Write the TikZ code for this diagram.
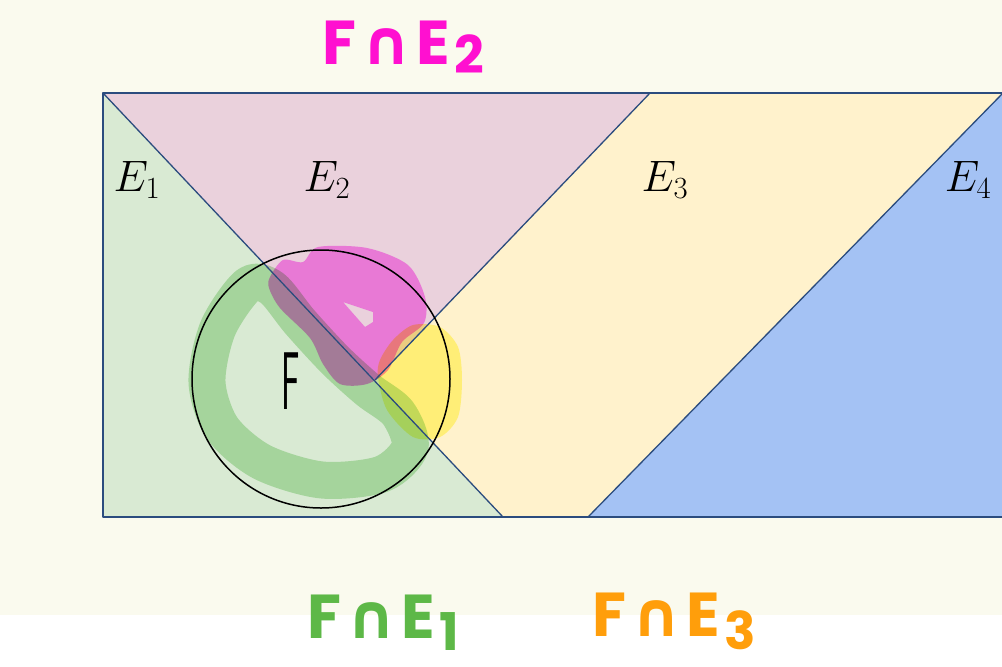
\RequirePackage{fix-cm}
\documentclass[tikz,border=0pt]{standalone}
\usepackage{fontspec}
\usepackage{tikz}
\usepackage{xcolor}
\usetikzlibrary{positioning}
\newfontfamily\handfont{Poppins}
\newfontfamily\symfont{DejaVu Sans}
\definecolor{cream}{HTML}{FAFAEE}
\definecolor{frameblue}{HTML}{2B4C7E}
\definecolor{eonebg}{HTML}{D9EAD3}
\definecolor{etwobg}{HTML}{EAD1DC}
\definecolor{ethreebg}{HTML}{FFF2CC}
\definecolor{efourbg}{HTML}{A4C2F4}
\definecolor{greenmark}{HTML}{C3E8BD}
\definecolor{pinkmark}{HTML}{FD94F7}
\definecolor{yellowmark}{HTML}{FFFB95}
\definecolor{greenink}{HTML}{5DB847}
\definecolor{pinkink}{HTML}{FF10D0}
\definecolor{orangeink}{HTML}{FF9E0B}
\tikzset{
  edge/.style={draw=frameblue,line width=1.3pt,line join=round},
  setlabel/.style={inner sep=0pt,font=\fontsize{44}{44}\selectfont},
  handlabel/.style={inner sep=0pt,font=\fontsize{62}{62}\handfont\bfseries},
  marker/.style={line width=37pt,line cap=round,line join=round,blend mode=multiply},
  blob/.style={blend mode=multiply,even odd rule}
}
\newcommand{\capsign}{\hspace{5pt}{\symfont\bfseries ∩}\hspace{5pt}}
\newcommand{\lowsub}[2]{\hspace{4pt}\raisebox{-#1}{\fontsize{52}{52}\selectfont #2}}
\begin{document}
\begin{tikzpicture}[x=1pt,y=-1pt]
  \useasboundingbox (0,0) rectangle (1002,667);
  \clip (0,0) rectangle (1002,667);
  \fill[cream] (0,0) rectangle (1002,615);
  \fill[white] (0,615) rectangle (1002,667);

  % corners of the sample space
  \coordinate (tl) at (103,93);
  \coordinate (bl) at (103,517);
  \coordinate (b1) at (503,517);
  \coordinate (t2) at (650,93);
  \coordinate (mid) at (375,380);
  \coordinate (t3) at (1003,93);
  \coordinate (b3) at (588,517);
  \coordinate (tr) at (1012,93);
  \coordinate (br) at (1012,517);

  % the partition
  \fill[eonebg] (tl) -- (b1) -- (bl) -- cycle;
  \fill[etwobg] (tl) -- (t2) -- (mid) -- cycle;
  \fill[ethreebg] (t2) -- (t3) -- (b3) -- (b1) -- (mid) -- cycle;
  \fill[efourbg] (t3) -- (tr) -- (br) -- (b3) -- cycle;

  % highlighter strokes
  \draw[marker,draw=greenmark] plot[smooth cycle] coordinates {
    (248,285) (218,328) (207,382) (222,428) (262,462) (322,480)
    (382,474) (410,447) (398,413) (368,390) (335,360) (300,322) (272,288)};
  \fill[blob,fill=pinkmark] plot[smooth cycle] coordinates {
    (270,277) (283,260) (303,262) (318,247) (367,248) (408,265)
    (425,297) (424,323) (402,342) (388,370) (367,384) (340,384)
    (323,364) (310,338) (280,308) (269,288)}
    plot coordinates {(343,302) (373,312) (373,322) (365,327) (343,302)};
  \fill[blob,fill=yellowmark] plot[smooth cycle] coordinates {
    (393,340) (413,325) (440,327) (458,347) (462,380) (458,417)
    (440,437) (413,437) (387,410) (378,377) (380,360)};

  % boundaries
  \draw[edge] (tr) -- (tl) -- (bl) -- (br);
  \draw[edge] (tl) -- (b1);
  \draw[edge] (t2) -- (mid);
  \draw[edge] (t3) -- (b3);

  \node[circle,draw=black,line width=1.5pt,minimum size=258pt] (fcircle) at (321,379) {};
  \node[inner sep=0pt,font=\fontsize{82}{82}\sffamily,xscale=0.42] (flab) at (291,381) {F};

  \node[setlabel] (e1) at (137,180) {$E_1$};
  \node[setlabel] (e2) at (327,180) {$E_2$};
  \node[setlabel] (e3) at (665,180) {$E_3$};
  \node[setlabel] (e4) at (968,180) {$E_4$};
  \node[inner sep=0pt,font=\fontsize{64}{64}\selectfont] (omega) at (40,472) {$\mathbf{\Omega}$};

  \node[handlabel,text=pinkink,anchor=base west] (lab2) at (322,64) {F\capsign E\lowsub{9pt}{2}};
  \node[handlabel,text=greenink,anchor=base west] (lab1) at (307,638) {F\capsign E\lowsub{12pt}{1}};
  \node[handlabel,text=orangeink,anchor=base west] (lab3) at (592,636) {F\capsign E\lowsub{13pt}{3}};
\end{tikzpicture}
\end{document}
